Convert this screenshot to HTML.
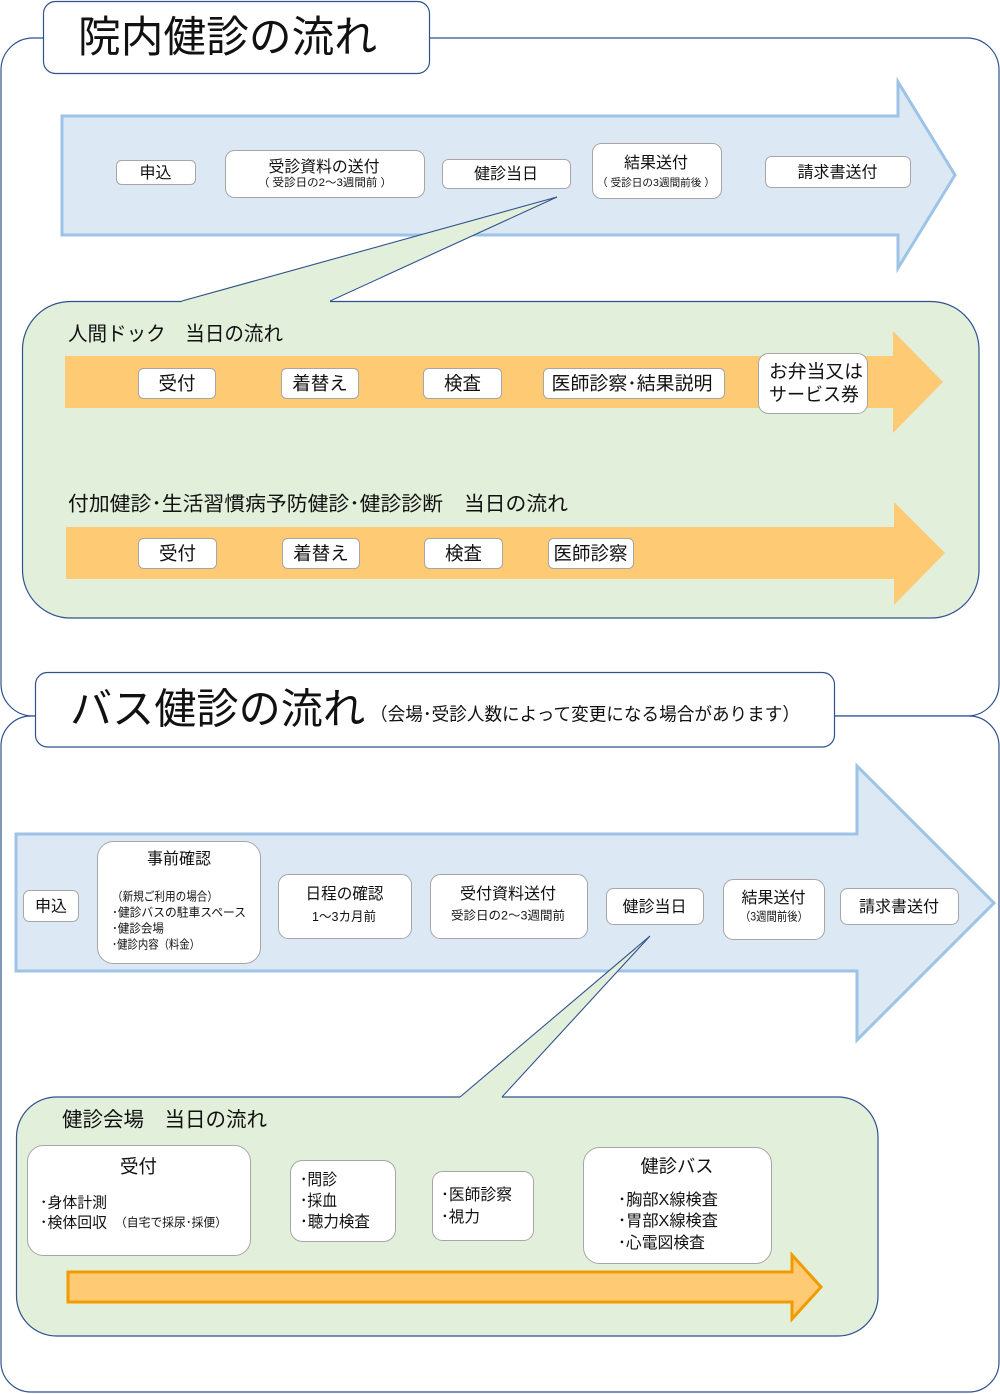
<!DOCTYPE html>
<html>
<head>
<meta charset="utf-8">
<style>
html,body{margin:0;padding:0;background:#fff;}
svg{display:block;}
text{font-family:"Liberation Sans","Noto Sans CJK JP",sans-serif;fill:#111;}
</style>
</head>
<body>
<svg width="1000" height="1394" viewBox="0 0 1000 1394" xmlns="http://www.w3.org/2000/svg">
  <!-- outer frames -->
  <rect x="1" y="38" width="998" height="678" rx="32" ry="32" fill="#fff" stroke="#2f528f" stroke-width="1.2"/>
  <rect x="1" y="716" width="998" height="676" rx="30" ry="30" fill="#fff" stroke="#2f528f" stroke-width="1.2"/>

  <!-- title box 1 -->
  <rect x="43.5" y="1.5" width="386" height="72" rx="12" ry="12" fill="#fff" stroke="#2f528f" stroke-width="1.2"/>
  <text x="78" y="52" font-size="43" textLength="299" lengthAdjust="spacingAndGlyphs">院内健診の流れ</text>

  <!-- blue arrow 1 -->
  <polygon points="62,116 898,116 898,82 955,175 898,268 898,235 62,235" fill="#dde8f5" stroke="#9dc3e6" stroke-width="3" stroke-linejoin="miter"/>

  <!-- green panel 1 -->
  <rect x="22.5" y="301.5" width="956.5" height="316.5" rx="48" ry="48" fill="#e2efda" stroke="#2f528f" stroke-width="1.2"/>
  <!-- callout 1 -->
  <polygon points="557,197 182,300 182,303 330,303 330,300" fill="#e2efda"/>
  <line x1="557" y1="197" x2="182" y2="301" stroke="#2f528f" stroke-width="1.1"/>
  <line x1="557" y1="197" x2="330" y2="301" stroke="#2f528f" stroke-width="1.1"/>

  <!-- blue arrow 1 boxes -->
  <g fill="#fff" stroke="#a6a6a6" stroke-width="1">
    <rect x="116.5" y="160.5" width="79" height="24" rx="5"/>
    <rect x="225.5" y="150.5" width="199" height="47" rx="9"/>
    <rect x="442.5" y="159.5" width="128" height="29" rx="6"/>
    <rect x="592.5" y="143.5" width="129" height="55" rx="9"/>
    <rect x="765.5" y="156.5" width="145" height="31" rx="6"/>
  </g>
  <g text-anchor="middle">
    <text x="155.5" y="178" font-size="16">申込</text>
    <text x="324" y="172" font-size="16" textLength="111" lengthAdjust="spacingAndGlyphs">受診資料の送付</text>
    <text x="325" y="186" font-size="11" textLength="134" lengthAdjust="spacingAndGlyphs">（ 受診日の2～3週間前 ）</text>
    <text x="506" y="179" font-size="16">健診当日</text>
    <text x="656" y="168" font-size="16">結果送付</text>
    <text x="656" y="186" font-size="10.5" textLength="118" lengthAdjust="spacingAndGlyphs">（ 受診日の3週間前後 ）</text>
    <text x="837.5" y="177.5" font-size="16">請求書送付</text>
  </g>

  <!-- panel 1 titles -->
  <text x="68" y="340.5" font-size="20" textLength="215" lengthAdjust="spacingAndGlyphs">人間ドック　当日の流れ</text>
  <text x="68" y="510.5" font-size="20" textLength="500" lengthAdjust="spacingAndGlyphs">付加健診･生活習慣病予防健診･健診診断　当日の流れ</text>

  <!-- orange arrows -->
  <polygon points="65,356 893,356 893,331 943,382 893,433 893,408 65,408" fill="#fecb74"/>
  <polygon points="66,527 894,527 894,502 945,553 894,605 894,579 66,579" fill="#fecb74"/>

  <g fill="#fff" stroke="#a6a6a6" stroke-width="1">
    <rect x="138.5" y="368.5" width="77" height="30" rx="5"/>
    <rect x="281.5" y="368.5" width="77" height="30" rx="5"/>
    <rect x="423.5" y="368.5" width="78" height="30" rx="5"/>
    <rect x="543.5" y="368.5" width="181" height="30" rx="5"/>
    <rect x="758.5" y="353.5" width="109" height="60" rx="10"/>
    <rect x="138.5" y="538.5" width="78" height="30" rx="5"/>
    <rect x="282.5" y="538.5" width="77" height="30" rx="5"/>
    <rect x="424.5" y="538.5" width="78" height="30" rx="5"/>
    <rect x="548.5" y="538.5" width="85" height="30" rx="5"/>
  </g>
  <g text-anchor="middle" font-size="18.5">
    <text x="177" y="390" font-size="18.5">受付</text>
    <text x="320" y="390" font-size="18.5">着替え</text>
    <text x="462.5" y="390" font-size="18.5">検査</text>
    <text x="632" y="390" font-size="18.5" textLength="161" lengthAdjust="spacingAndGlyphs">医師診察･結果説明</text>
    <text x="177.5" y="560" font-size="18.5">受付</text>
    <text x="321" y="560" font-size="18.5">着替え</text>
    <text x="463.5" y="560" font-size="18.5">検査</text>
    <text x="590.5" y="560" font-size="18.5" textLength="74" lengthAdjust="spacingAndGlyphs">医師診察</text>
  </g>
  <text x="769" y="378" font-size="18.5" textLength="94" lengthAdjust="spacingAndGlyphs">お弁当又は</text>
  <text x="769" y="401" font-size="18.5" textLength="90" lengthAdjust="spacingAndGlyphs">サービス券</text>

  <!-- title box 2 -->
  <rect x="35.5" y="672.5" width="799" height="74.5" rx="12" ry="12" fill="#fff" stroke="#2f528f" stroke-width="1.2"/>
  <text x="70" y="723.5" font-size="42" textLength="295" lengthAdjust="spacingAndGlyphs">バス健診の流れ</text>
  <text x="370" y="720.5" font-size="18" textLength="430" lengthAdjust="spacingAndGlyphs">（会場･受診人数によって変更になる場合があります）</text>

  <!-- blue arrow 2 -->
  <polygon points="16,834 857,834 857,766 994,903 857,1040 857,971 16,971" fill="#dde8f5" stroke="#9dc3e6" stroke-width="3" stroke-linejoin="miter"/>

  <!-- green panel 2 -->
  <rect x="16.5" y="1097" width="861.5" height="239" rx="40" ry="40" fill="#e2efda" stroke="#2f528f" stroke-width="1.2"/>
  <polygon points="650,936 460,1096 460,1099 502,1099 502,1096" fill="#e2efda"/>
  <line x1="650" y1="936" x2="460" y2="1097" stroke="#2f528f" stroke-width="1.1"/>
  <line x1="650" y1="936" x2="502" y2="1097" stroke="#2f528f" stroke-width="1.1"/>

  <!-- blue arrow 2 boxes -->
  <g fill="#fff" stroke="#a6a6a6" stroke-width="1">
    <rect x="23.5" y="890.5" width="55" height="31" rx="6"/>
    <rect x="97.5" y="841.5" width="163" height="122" rx="16"/>
    <rect x="278.5" y="874.5" width="133" height="64" rx="10"/>
    <rect x="430.5" y="874.5" width="157" height="64" rx="10"/>
    <rect x="606.5" y="888.5" width="97" height="36" rx="7"/>
    <rect x="723.5" y="879.5" width="101" height="60" rx="10"/>
    <rect x="840.5" y="888.5" width="118" height="36" rx="7"/>
  </g>
  <g text-anchor="middle">
    <text x="51" y="911.5" font-size="16">申込</text>
    <text x="179" y="864" font-size="16">事前確認</text>
    <text x="344.5" y="899" font-size="16" textLength="78" lengthAdjust="spacingAndGlyphs">日程の確認</text>
    <text x="344" y="921" font-size="13" textLength="64" lengthAdjust="spacingAndGlyphs">1～3カ月前</text>
    <text x="508" y="899" font-size="16" textLength="96" lengthAdjust="spacingAndGlyphs">受付資料送付</text>
    <text x="508" y="919.5" font-size="12" textLength="114" lengthAdjust="spacingAndGlyphs">受診日の2～3週間前</text>
    <text x="654.5" y="912" font-size="16">健診当日</text>
    <text x="773.5" y="903" font-size="16">結果送付</text>
    <text x="774" y="920.5" font-size="12" textLength="68" lengthAdjust="spacingAndGlyphs">（3週間前後）</text>
    <text x="899" y="912" font-size="16">請求書送付</text>
  </g>
  <g font-size="12">
    <text x="112" y="900.5" textLength="106" lengthAdjust="spacingAndGlyphs">（新規ご利用の場合）</text>
    <text x="112" y="916.5" textLength="134" lengthAdjust="spacingAndGlyphs">･健診バスの駐車スペース</text>
    <text x="112" y="932.5" textLength="52" lengthAdjust="spacingAndGlyphs">･健診会場</text>
    <text x="112" y="948.5" textLength="88" lengthAdjust="spacingAndGlyphs">･健診内容（料金）</text>
  </g>

  <!-- panel 2 content -->
  <text x="62" y="1126.5" font-size="20.5" textLength="205" lengthAdjust="spacingAndGlyphs">健診会場　当日の流れ</text>

  <g fill="#fff" stroke="#a6a6a6" stroke-width="1">
    <rect x="27.5" y="1145.5" width="223" height="110" rx="16"/>
    <rect x="290.5" y="1160.5" width="105" height="81" rx="12"/>
    <rect x="432.5" y="1171.5" width="101" height="69" rx="10"/>
    <rect x="583.5" y="1147.5" width="188" height="116" rx="16"/>
  </g>
  <text x="138.5" y="1173" font-size="18.5" text-anchor="middle">受付</text>
  <text x="40" y="1207.5" font-size="15" textLength="67" lengthAdjust="spacingAndGlyphs">･身体計測</text>
  <text x="40" y="1227.5" font-size="15" textLength="67" lengthAdjust="spacingAndGlyphs">･検体回収</text>
  <text x="115" y="1226.5" font-size="12" textLength="112" lengthAdjust="spacingAndGlyphs">（自宅で採尿･採便）</text>

  <text x="300" y="1185" font-size="16" textLength="37" lengthAdjust="spacingAndGlyphs">･問診</text>
  <text x="300" y="1206" font-size="16" textLength="37" lengthAdjust="spacingAndGlyphs">･採血</text>
  <text x="300" y="1227" font-size="16" textLength="70" lengthAdjust="spacingAndGlyphs">･聴力検査</text>

  <text x="441" y="1200" font-size="16" textLength="71" lengthAdjust="spacingAndGlyphs">･医師診察</text>
  <text x="441" y="1222" font-size="16" textLength="39" lengthAdjust="spacingAndGlyphs">･視力</text>

  <text x="677" y="1172.5" font-size="18" text-anchor="middle" textLength="73" lengthAdjust="spacingAndGlyphs">健診バス</text>
  <text x="618" y="1205" font-size="16" textLength="100" lengthAdjust="spacingAndGlyphs">･胸部X線検査</text>
  <text x="618" y="1226" font-size="16" textLength="100" lengthAdjust="spacingAndGlyphs">･胃部X線検査</text>
  <text x="618" y="1248" font-size="16" textLength="87" lengthAdjust="spacingAndGlyphs">･心電図検査</text>

  <!-- bottom orange arrow -->
  <polygon points="68,1272 792,1272 792,1255 821,1287 792,1319 792,1302 68,1302" fill="#fecb74" stroke="#f09c00" stroke-width="3" stroke-linejoin="miter"/>
</svg>
</body>
</html>
